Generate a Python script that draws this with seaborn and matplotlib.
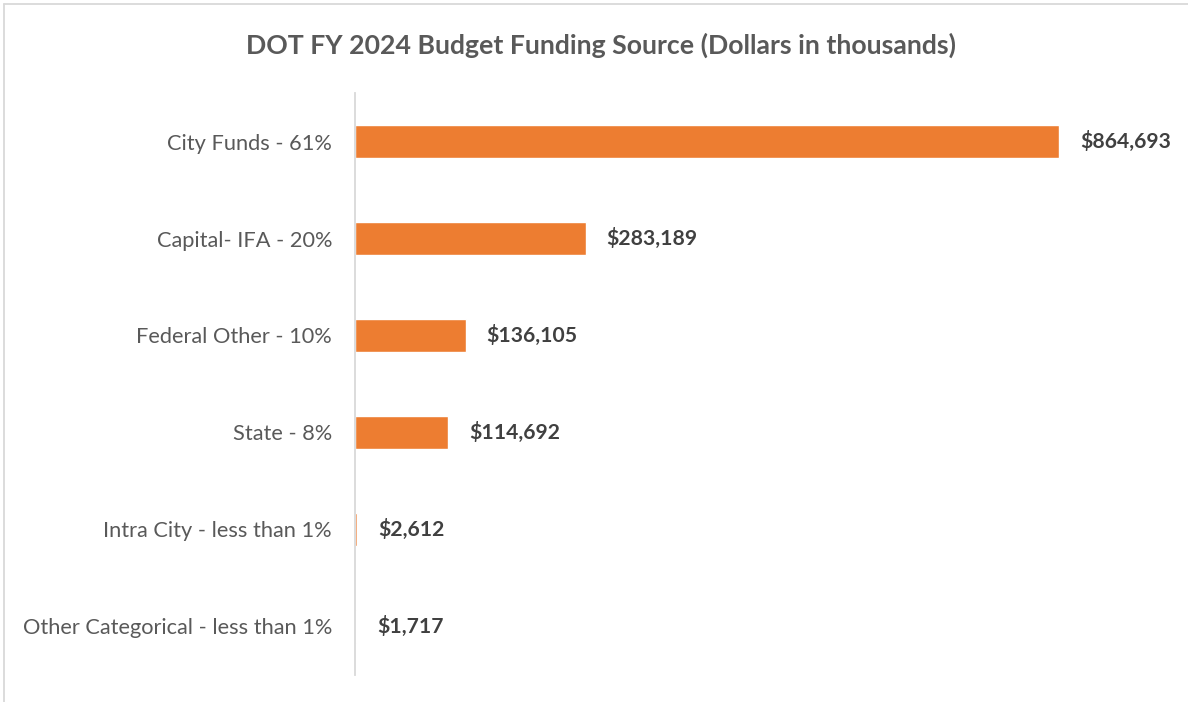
import matplotlib
matplotlib.use("Agg")
import matplotlib.pyplot as plt
import pandas as pd
import seaborn as sns
from matplotlib.lines import Line2D

# --- Datos ---
categorias = ["City Funds - 61%", "Capital- IFA - 20%", "Federal Other - 10%",
              "State - 8%", "Intra City - less than 1%",
              "Other Categorical - less than 1%"]
valores = [864693, 283189, 136105, 114692, 2612, 1717]
titulo = "DOT FY 2024 Budget Funding Source (Dollars in thousands)"

df = pd.DataFrame({"fuente": categorias, "monto": valores})

sns.set_theme(style="white")
plt.rcParams["font.family"] = ["Lato", "DejaVu Sans"]

fig = plt.figure(figsize=(11.88, 7.02), dpi=100)
ax = fig.add_axes([0.2988, 0.0385, 0.67, 0.829])

sns.barplot(data=df, x="monto", y="fuente", orient="h", color="#ED7D31",
            saturation=1, width=0.35, ax=ax)

for i, v in enumerate(df["monto"]):
    ax.annotate(f"${v:,.0f}", (v, i), xytext=(15, 0), textcoords="offset points",
                va="center", ha="left", fontsize=15.2, fontweight="bold",
                color="#404040")

ax.set_xlim(0, 864693 * (0.67 * 1188) / 704)
ax.set_ylim(5.5, -0.5)
ax.set_xlabel("")
ax.set_ylabel("")
ax.set_xticks([])
ax.tick_params(axis="y", length=0, pad=16.5, labelsize=15.7, labelcolor="#595959")
for s in ["top", "right", "bottom"]:
    ax.spines[s].set_visible(False)
ax.spines["left"].set_color("#D9D9D9")
ax.spines["left"].set_linewidth(1.3)

fig.text(0.506, 0.936, titulo, ha="center", va="center", fontsize=19.2,
         fontweight="bold", color="#595959")

# marco del gráfico (solo visible arriba e izquierda)
fig.add_artist(Line2D([4 / 1188, 1], [1 - 4 / 702, 1 - 4 / 702],
                      transform=fig.transFigure, color="#D9D9D9", lw=1.3))
fig.add_artist(Line2D([4 / 1188, 4 / 1188], [0, 1 - 4 / 702],
                      transform=fig.transFigure, color="#D9D9D9", lw=1.3))

fig.savefig("out.png", dpi=100)
plt.close(fig)
